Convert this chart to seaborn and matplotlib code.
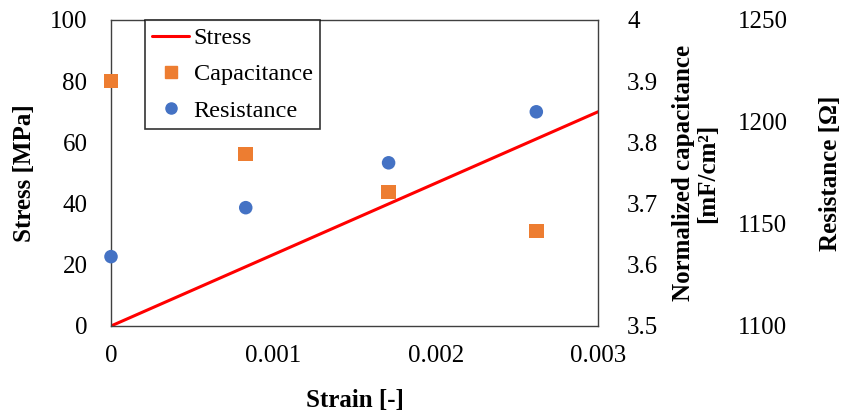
import matplotlib
matplotlib.use("Agg")
import matplotlib.pyplot as plt
import seaborn as sns
import pandas as pd
from matplotlib.lines import Line2D

# ---- data ----
stress_strain = [0.0, 0.003]
stress_values = [0.0, 70.0]

meas_strain = [0.0, 0.00083, 0.00171, 0.00262]
capacitance = [3.90, 3.781, 3.719, 3.655]
resistance = [1134, 1158, 1180, 1205]

x_ticks = [0, 0.001, 0.002, 0.003]
x_tick_labels = ["0", "0.001", "0.002", "0.003"]
stress_ticks = [0, 20, 40, 60, 80, 100]
cap_ticks = [3.5, 3.6, 3.7, 3.8, 3.9, 4.0]
cap_tick_labels = ["3.5", "3.6", "3.7", "3.8", "3.9", "4"]
res_ticks = [1100, 1150, 1200, 1250]

sns.set_style("white")
plt.rcParams["font.family"] = ["Liberation Serif", "DejaVu Serif"]
plt.rcParams["font.size"] = 18
plt.rcParams["text.color"] = "black"
plt.rcParams["axes.labelcolor"] = "black"
plt.rcParams["xtick.color"] = "black"
plt.rcParams["ytick.color"] = "black"

RED = "#FF0000"
ORANGE = "#ED7D31"
BLUE = "#4472C4"

fig = plt.figure(figsize=(8.41, 4.18), dpi=100)
ax = fig.add_axes([111 / 841, 1 - 326 / 418, 487 / 841, 306 / 418])

df_s = pd.DataFrame({"strain": stress_strain, "stress": stress_values})
sns.lineplot(data=df_s, x="strain", y="stress", ax=ax, color=RED, lw=2.2)

ax2 = ax.twinx()
ax3 = ax.twinx()

df_c = pd.DataFrame({"strain": meas_strain, "cap": capacitance})
sns.scatterplot(data=df_c, x="strain", y="cap", ax=ax2, color=ORANGE,
                marker="s", s=110, edgecolor="none", clip_on=False, zorder=5)
df_r = pd.DataFrame({"strain": meas_strain, "res": resistance})
sns.scatterplot(data=df_r, x="strain", y="res", ax=ax3, color=BLUE,
                marker="o", s=95, edgecolor="none", clip_on=False, zorder=5)

ax.set_xlim(0, 0.003)
ax.set_ylim(0, 100)
ax2.set_ylim(3.5, 4.0)
ax3.set_ylim(1100, 1250)

ax.set_xticks(x_ticks)
ax.set_xticklabels(x_tick_labels)
ax.set_yticks(stress_ticks)
ax2.set_yticks(cap_ticks)
ax2.set_yticklabels(cap_tick_labels)
ax3.set_yticks(res_ticks)

for s in ax.spines.values():
    s.set_color("#404040")
    s.set_linewidth(1.0)
for a in (ax2, ax3):
    for s in a.spines.values():
        s.set_visible(False)

ax.tick_params(axis="x", length=0, pad=14, labelsize=18)
ax.tick_params(axis="y", length=0, pad=17, labelsize=18)
ax2.tick_params(axis="y", length=0, pad=21, labelsize=18)
ax3.tick_params(axis="y", length=0, pad=101, labelsize=18)

ax.set_xlabel("Strain [-]", fontweight="bold", fontsize=18)
ax.set_ylabel("Stress [MPa]", fontweight="bold", fontsize=18)
ax2.set_ylabel("Normalized capacitance\n[mF/cm²]", fontweight="bold",
               fontsize=18, linespacing=1.05)
ax3.set_ylabel("Resistance [Ω]", fontweight="bold", fontsize=18)

ax.xaxis.set_label_coords(0.50, -0.245)
ax.xaxis.label.set_va("center")
ax.yaxis.set_label_coords(-0.178, 0.5)
ax.yaxis.label.set_va("center")
ax2.yaxis.set_label_coords(1.20, 0.5)
ax2.yaxis.label.set_va("center")
ax3.yaxis.set_label_coords(1.478, 0.5)
ax3.yaxis.label.set_va("center")

handles = [
    Line2D([], [], color=RED, lw=2.2, label="Stress"),
    Line2D([], [], color=ORANGE, marker="s", ls="none", markersize=8, label="Capacitance"),
    Line2D([], [], color=BLUE, marker="o", ls="none", markersize=8, label="Resistance"),
]
leg = ax3.legend(handles=handles, loc="upper left", bbox_to_anchor=(0.070, 1.0),
                 frameon=True, fancybox=False, fontsize=17.5, handlelength=1.5,
                 handletextpad=0.2, borderpad=0.3, labelspacing=0.58,
                 borderaxespad=0)
leg.get_frame().set_edgecolor("black")
leg.get_frame().set_linewidth(1.2)

fig.savefig("out.png", dpi=100)
